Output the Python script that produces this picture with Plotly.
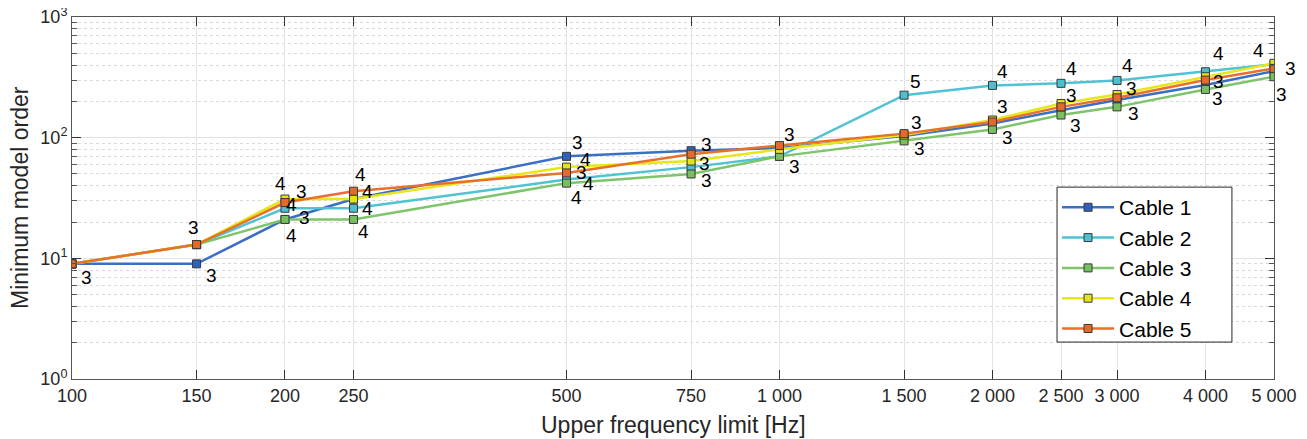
import math
import plotly.graph_objects as go

# ---------------- data ----------------
freq = [100, 150, 200, 250, 500, 750, 1000, 1500, 2000, 2500, 3000, 4000, 5000]
freq_labels = ["100", "150", "200", "250", "500", "750", "1 000", "1 500",
               "2 000", "2 500", "3 000", "4 000", "5 000"]

series_names = ["Cable 1", "Cable 2", "Cable 3", "Cable 4", "Cable 5"]
cable1 = [9, 9, 21, 31, 70, 78, 82, 103, 131, 169, 205, 273, 356]
cable2 = [9, 13, 26, 26, 45, 57, 70, 225, 271, 282, 298, 352, 405]
cable3 = [9, 13, 21, 21, 42, 50, 70, 94, 117, 154, 180, 251, 320]
cable4 = [9, 13, 31, 31, 57, 64, 80, 105, 140, 192, 228, 320, 413]
cable5 = [9, 13, 29, 36, 51, 73, 86, 108, 135, 180, 214, 300, 375]
series_values = [cable1, cable2, cable3, cable4, cable5]

# point labels: (series index, frequency index, text)
point_labels = [
    (4, 0, "3"),
    (4, 1, "3"), (0, 1, "3"),
    (3, 2, "4"), (4, 2, "3"), (1, 2, "4"), (0, 2, "3"), (2, 2, "4"),
    (4, 3, "4"), (3, 3, "4"), (1, 3, "4"), (2, 3, "4"),
    (0, 4, "3"), (3, 4, "4"), (4, 4, "3"), (1, 4, "4"), (2, 4, "4"),
    (0, 5, "3"), (3, 5, "3"), (2, 5, "3"),
    (4, 6, "3"), (2, 6, "3"),
    (1, 7, "5"), (4, 7, "3"), (2, 7, "3"),
    (1, 8, "4"), (4, 8, "3"), (2, 8, "3"),
    (1, 9, "4"), (3, 9, "3"), (2, 9, "3"),
    (1, 10, "4"), (3, 10, "3"), (2, 10, "3"),
    (1, 11, "4"), (4, 11, "3"), (2, 11, "3"),
    (3, 12, "4"), (4, 12, "3"), (2, 12, "3"),
]

y_tick_vals = [1, 10, 100, 1000]
y_tick_text = ["10<sup>0</sup>", "10<sup>1</sup>", "10<sup>2</sup>", "10<sup>3</sup>"]
x_title = "Upper frequency limit [Hz]"
y_title = "Minimum model order"

# ---------------- styles ----------------
line_colors = ["#3a6fc4", "#4fc3d4", "#7dc46a", "#e6e61a", "#e8702a"]
marker_colors = ["#2f62b8", "#4dbfd0", "#78bf62", "#e3e31a", "#e5692a"]
# pixel offsets (dx right, dy down) for each point label, same order as point_labels
label_offsets = [
    (14, 14),
    (-3, -17), (15, 12),
    (-4, -16), (17, -11), (7, -4), (20, -2), (7, 16),
    (7, -17), (14, -8), (14, 0), (10, 12),
    (11, -14), (19, -8), (15, 0), (22, 4), (10, 14),
    (15, -6), (13, 2), (15, 7),
    (10, -11), (15, 10),
    (11, -14), (12, -11), (15, 8),
    (10, -14), (10, -15), (15, 8),
    (10, -15), (10, -8), (14, 10),
    (10, -15), (14, -6), (16, 7),
    (13, -18), (13, 1), (12, 9),
    (-16, -13), (16, 0), (7, 18),
]

FONT = "Liberation Sans, Arial, Helvetica, sans-serif"
TXT = "#262626"

fig = go.Figure()
for name, vals, lc, mc in zip(series_names, series_values, line_colors, marker_colors):
    fig.add_trace(go.Scatter(
        x=freq, y=vals, name=name, mode="lines+markers",
        line=dict(color=lc, width=2.5),
        marker=dict(symbol="square", size=8, color=mc,
                    line=dict(color="#3a3a3a", width=1)),
    ))

annotations = []
for (si, fi, txt), (dx, dy) in zip(point_labels, label_offsets):
    annotations.append(dict(
        x=math.log10(freq[fi]), y=math.log10(series_values[si][fi]),
        xref="x", yref="y", text=txt, showarrow=False,
        xshift=dx, yshift=-dy,
        font=dict(family=FONT, size=19, color="#000000"),
    ))
# axis titles
annotations.append(dict(
    x=0.5, y=0, xref="paper", yref="paper", text=x_title, showarrow=False,
    xanchor="center", yanchor="middle", yshift=-46,
    font=dict(family=FONT, size=23, color=TXT),
))
annotations.append(dict(
    x=0, y=0.5, xref="paper", yref="paper", text=y_title, showarrow=False,
    xanchor="center", yanchor="middle", xshift=-52, textangle=-90,
    font=dict(family=FONT, size=23, color=TXT),
))

minor_vals = [m * 10 ** e for e in range(0, 3) for m in range(2, 10)]

fig.update_layout(
    width=1299, height=431,
    margin=dict(l=64, r=33, t=9, b=60),
    paper_bgcolor="white", plot_bgcolor="white",
    font=dict(family=FONT, color=TXT),
    showlegend=True,
    legend=dict(
        x=0.8195, y=0.53, xanchor="left", yanchor="top",
        bgcolor="rgba(0,0,0,0)", borderwidth=0,
        font=dict(family=FONT, size=21, color="#000000"),
        tracegroupgap=0, itemwidth=52,
    ),
    shapes=[dict(
        type="rect", xref="paper", yref="paper",
        x0=0.8195, x1=0.965, y0=0.102, y1=0.530,
        fillcolor="white", line=dict(color="#262626", width=1), layer="above",
    )],
    annotations=annotations,
)

fig.update_xaxes(
    type="log", automargin=False,
    range=[math.log10(freq[0]), math.log10(freq[-1])],
    tickvals=freq, ticktext=freq_labels,
    tickfont=dict(family=FONT, size=18, color=TXT),
    ticks="inside", ticklen=9, tickcolor="#333333",
    showgrid=True, gridcolor="#e3e3e3", gridwidth=1,
    showline=True, linecolor="#555555", linewidth=1, mirror="ticks",
    zeroline=False, ticklabeloverflow="allow",
)
fig.update_yaxes(
    type="log", automargin=False,
    range=[0, 3],
    tickvals=y_tick_vals, ticktext=y_tick_text,
    tickfont=dict(family=FONT, size=18, color=TXT),
    ticks="inside", ticklen=9, tickcolor="#333333",
    showgrid=True, gridcolor="#e3e3e3", gridwidth=1,
    showline=True, linecolor="#555555", linewidth=1, mirror="ticks",
    zeroline=False, ticklabeloverflow="allow",
    minor=dict(tickvals=minor_vals, ticks="inside", ticklen=5,
               tickcolor="#555555", showgrid=True,
               gridcolor="#d9d9d9", griddash="dot", gridwidth=1),
)

fig.write_html("out.html")
